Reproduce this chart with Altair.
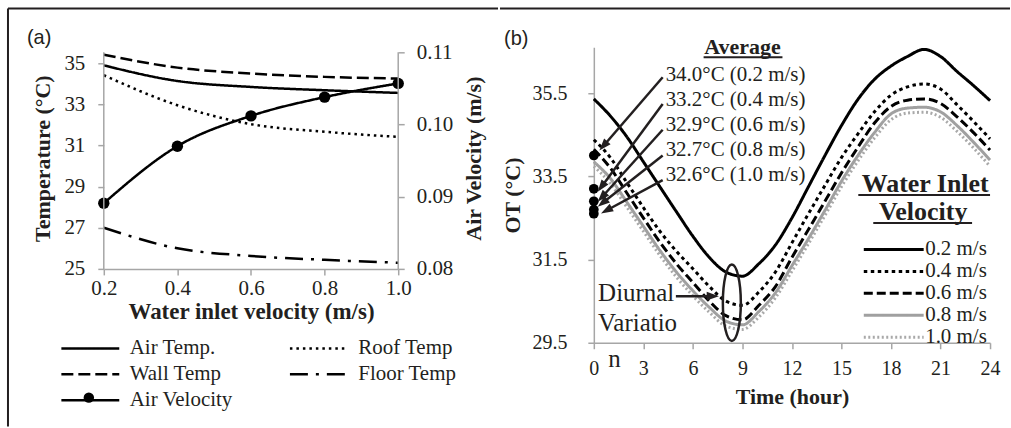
import math
import altair as alt
import pandas as pd

FONT = "Liberation Serif"
INK = "#231f20"
AXIS_GREY = "#a6a6a6"

# ---------------- Panel (a) data ----------------
inlet_velocity = [0.2, 0.4, 0.6, 0.8, 1.0]
air_temp = [34.90, 34.14, 33.85, 33.69, 33.56]
wall_temp = [35.42, 34.79, 34.50, 34.34, 34.26]
roof_temp = [34.42, 32.96, 32.04, 31.67, 31.42]
floor_temp = [27.00, 26.00, 25.63, 25.44, 25.30]
air_velocity = [0.0891, 0.0970, 0.1012, 0.1038, 0.1057]
# legend is filled column by column: col 1 = first three, col 2 = last two
series_a = ["Air Temp.", "Wall Temp", "Air Velocity", "Roof Temp", "Floor Temp"]
dash_a = [[1, 0], [12, 5], [1, 0], [2.5, 4], [18, 8, 3, 8]]
temp_ticks = [25, 27, 29, 31, 33, 35]
vel_ticks = [0.08, 0.09, 0.10, 0.11]

# ---------------- Panel (b) data ----------------
hours = list(range(25))
ot_02 = [35.36, 34.95, 34.45, 33.85, 33.25, 32.65, 32.06, 31.55, 31.20, 31.10, 31.40, 31.85, 32.50,
         33.25, 34.00, 34.72, 35.35, 35.83, 36.15, 36.38, 36.55, 36.38, 36.02, 35.68, 35.32]
ot_04 = [34.38, 33.95, 33.35, 32.75, 32.18, 31.70, 31.28, 30.85, 30.50, 30.40, 30.72, 31.20, 31.90,
         32.60, 33.28, 33.95, 34.52, 35.05, 35.45, 35.65, 35.72, 35.60, 35.22, 34.82, 34.40]
ot_06 = [34.15, 33.70, 33.10, 32.50, 31.92, 31.40, 30.95, 30.50, 30.15, 30.05, 30.40, 30.85, 31.55,
         32.22, 32.90, 33.58, 34.20, 34.78, 35.18, 35.33, 35.36, 35.25, 34.93, 34.55, 34.13]
ot_08 = [33.85, 33.45, 32.88, 32.30, 31.72, 31.20, 30.75, 30.35, 30.02, 29.93, 30.25, 30.70, 31.35,
         32.00, 32.68, 33.38, 34.00, 34.55, 35.00, 35.14, 35.16, 35.05, 34.72, 34.32, 33.89]
ot_10 = [33.74, 33.33, 32.76, 32.18, 31.60, 31.08, 30.63, 30.23, 29.90, 29.82, 30.12, 30.58, 31.22,
         31.88, 32.56, 33.25, 33.87, 34.42, 34.86, 35.02, 35.04, 34.92, 34.58, 34.18, 33.74]
series_b = ["0.2 m/s", "0.4 m/s", "0.6 m/s", "0.8 m/s", "1.0 m/s"]
colors_b = ["#000000", "#000000", "#000000", "#a0a0a0", "#a9a9a9"]
dash_b = [[1, 0], [3.5, 3.5], [9, 4], [1, 0], [2, 2.5]]
ot_ticks = [29.5, 31.5, 33.5, 35.5]
hour_ticks = list(range(0, 25, 3))

# averages and their annotations
avg_values = [34.0, 33.2, 32.9, 32.7, 32.6]
avg_labels = ["34.0°C (0.2 m/s)", "33.2°C (0.4 m/s)", "32.9°C (0.6 m/s)",
              "32.7°C (0.8 m/s)", "32.6°C (1.0 m/s)"]
label_hour = 4.35
label_ot = [35.78, 35.18, 34.58, 33.98, 33.38]
arrow_start_hour = [4.17, 4.17, 4.17, 4.17, 4.17]
arrow_start_ot = [35.88, 35.24, 34.62, 34.00, 33.41]
arrow_tip_hour = [0.34, 0.24, 0.24, 0.24, 0.44]
arrow_tip_ot = [34.12, 33.13, 32.89, 32.77, 32.61]

diurnal_text = ["Diurnal", "Variatio", "n"]
diurnal_hour = [0.26, 0.26, 0.87]
diurnal_ot = [30.50, 29.78, 28.91]
diurnal_arrow = (4.97, 30.62, 7.57, 30.62)
ellipse_center = (8.36, 30.46)

# ---------------- helpers ----------------
W_A, H_A = 295, 222
W_B, H_B = 397, 296
one = pd.DataFrame({"k": [0]})

def rule(x, y, x2=None, y2=None, width=2, color=INK):
    enc = {"x": alt.value(x), "y": alt.value(y)}
    if x2 is not None:
        enc["x2"] = alt.value(x2)
    if y2 is not None:
        enc["y2"] = alt.value(y2)
    return alt.Chart(one).mark_rule(color=color, strokeWidth=width).encode(**enc)

def ptext(txt, x, y, size, weight="normal", align="left", font=FONT):
    return alt.Chart(one).mark_text(text=txt, font=font, fontSize=size, fontWeight=weight,
                                    align=align, baseline="alphabetic", color=INK).encode(
        x=alt.value(x), y=alt.value(y))

# ---------------- Panel (a) ----------------
temp_rows = []
for name, vals in [("Air Temp.", air_temp), ("Wall Temp", wall_temp),
                   ("Roof Temp", roof_temp), ("Floor Temp", floor_temp)]:
    for v, t in zip(inlet_velocity, vals):
        temp_rows.append({"inlet": v, "series": name, "temp": t})
temp_df = pd.DataFrame(temp_rows)
vel_df = pd.DataFrame({"inlet": inlet_velocity, "velocity": air_velocity,
                       "series": ["Air Velocity"] * len(inlet_velocity)})

x_a = alt.X("inlet:Q", scale=alt.Scale(domain=[0.2, 1.0], nice=False, zero=False),
            axis=alt.Axis(values=inlet_velocity, format=".1f", title="Water inlet velocity (m/s)",
                          tickSize=6, labelPadding=3, titlePadding=2, titleFontSize=23,
                          labelFlush=False, labelOverlap=False))
legend_a = alt.Legend(
    orient="none", legendX=-44, legendY=290, title=None, columns=2, columnPadding=51,
    rowPadding=4, labelFontSize=21, labelOffset=47, symbolSize=400, symbolType="M-1,0L4.8,0",
    symbolStrokeWidth=2.5, symbolStrokeColor="black", padding=0)
dash_enc_a = alt.StrokeDash("series:N", scale=alt.Scale(domain=series_a, range=dash_a), legend=legend_a)

# plot area is 5 px taller than the drawn axis lines (top of axes at 35.5 / 0.11)
y_temp = alt.Y("temp:Q", scale=alt.Scale(domain=[25, 35.777], nice=False, zero=False),
               axis=alt.Axis(values=temp_ticks, title="Temperature (°C)", tickSize=6, domain=False,
                             labelPadding=13, titlePadding=9, titleFontSize=22))
y_vel = alt.Y("velocity:Q", scale=alt.Scale(domain=[0.08, 0.1107], nice=False, zero=False),
              axis=alt.Axis(values=vel_ticks, format=".2f", title="Air Velocity (m/s)", orient="right",
                            tickSize=6, labelPadding=12, titlePadding=11, titleFontSize=22,
                            titleAngle=270, titleBaseline="top", domain=False))

temp_lines = alt.Chart(temp_df).mark_line(interpolate="monotone", strokeWidth=2.5, color="black").encode(
    x=x_a, y=y_temp, strokeDash=dash_enc_a)
vel_line = alt.Chart(vel_df).mark_line(interpolate="monotone", strokeWidth=2.5, color="black").encode(
    x=x_a, y=y_vel, strokeDash=dash_enc_a)
vel_pts = alt.Chart(vel_df).mark_circle(size=130, color="black", opacity=1).encode(x=x_a, y=y_vel)
# marker on the "Air Velocity" legend sample
legend_dot = alt.Chart(one).mark_circle(size=110, color="black", opacity=1).encode(
    x=alt.value(-15), y=alt.value(351))

left = alt.layer(
    temp_lines,
    alt.layer(vel_line, vel_pts),
    legend_dot,
    rule(0, 5, y2=H_A, width=1.5, color=AXIS_GREY),
    rule(W_A, 5, y2=H_A, width=1.5, color=AXIS_GREY),
    rule(-96, -39, y2=380),
    rule(-96, -39, x2=395),
    ptext("(a)", -77, -3, 20, font="Liberation Sans"),
).resolve_scale(y="independent").properties(width=W_A, height=H_A)

# ---------------- Panel (b) ----------------
ot_rows = []
for name, vals in zip(series_b, [ot_02, ot_04, ot_06, ot_08, ot_10]):
    for h, v in zip(hours, vals):
        ot_rows.append({"hour": h, "series": name, "ot": v})
ot_df = pd.DataFrame(ot_rows)

x_scale_b = alt.Scale(domain=[0, 24], nice=False, zero=False)
y_scale_b = alt.Scale(domain=[29.5, 36.6], nice=False, zero=False)
x_axis_b = alt.Axis(values=hour_ticks, title="Time (hour)", tickSize=6, labelPadding=10,
                    titlePadding=8, labelFontSize=20, titleFontSize=22, labelFlush=False,
                    labelOverlap=False)
y_axis_b = alt.Axis(values=ot_ticks, format=".1f", title="OT (°C)", tickSize=6, labelPadding=21,
                    titlePadding=7, labelFontSize=20, titleFontSize=22)
x_b = alt.X("hour:Q", scale=x_scale_b, axis=x_axis_b)
y_b = alt.Y("ot:Q", scale=y_scale_b, axis=y_axis_b)

legend_b = alt.Legend(orient="none", legendX=269, legendY=191, title=None, labelFontSize=21,
                      labelOffset=40, rowPadding=0, symbolSize=400, symbolType="M-1,0L5,0",
                      symbolStrokeWidth=3, padding=0)

ot_lines = alt.Chart(ot_df).mark_line(interpolate="monotone", strokeWidth=3).encode(
    x=x_b, y=y_b,
    color=alt.Color("series:N", scale=alt.Scale(domain=series_b, range=colors_b), legend=legend_b),
    strokeDash=alt.StrokeDash("series:N", scale=alt.Scale(domain=series_b, range=dash_b), legend=legend_b),
)

avg_df = pd.DataFrame({"hour": [0] * len(avg_values), "ot": avg_values})
avg_dots = alt.Chart(avg_df).mark_circle(size=95, color="black", opacity=1).encode(x=x_b, y=y_b)

lab_df = pd.DataFrame({"hour": [label_hour] * len(avg_labels), "ot": label_ot, "txt": avg_labels})
avg_text = alt.Chart(lab_df).mark_text(font=FONT, fontSize=21, align="left", baseline="alphabetic",
                                       color=INK).encode(x=x_b, y=y_b, text="txt:N")

PX_H = W_B / 24.0
PX_V = H_B / (36.6 - 29.5)
HEAD_LEN = 6.0

def arrow_parts(h0, v0, h1, v1):
    dx = (h1 - h0) * PX_H
    dy = -(v1 - v0) * PX_V
    L = math.hypot(dx, dy)
    ang = math.degrees(math.atan2(dx, -dy)) % 360
    hc = h1 - HEAD_LEN * dx / L / PX_H
    vc = v1 + HEAD_LEN * dy / L / PX_V
    return hc, vc, ang

starts_h = arrow_start_hour + [diurnal_arrow[0]]
starts_v = arrow_start_ot + [diurnal_arrow[1]]
tips_h = arrow_tip_hour + [diurnal_arrow[2]]
tips_v = arrow_tip_ot + [diurnal_arrow[3]]
heads = [arrow_parts(a, b, c, d) for a, b, c, d in zip(starts_h, starts_v, tips_h, tips_v)]
arrow_df = pd.DataFrame({
    "hour": starts_h, "ot": starts_v,
    "hour2": [h[0] for h in heads], "ot2": [h[1] for h in heads],
})
head_df = pd.DataFrame({"hour": [h[0] for h in heads], "ot": [h[1] for h in heads],
                        "ang": [h[2] for h in heads]})
arrow_lines = alt.Chart(arrow_df).mark_rule(color=INK, strokeWidth=2.5).encode(
    x=x_b, y=y_b, x2="hour2:Q", y2="ot2:Q")
arrow_heads = alt.Chart(head_df).mark_point(
    shape="M0,-1L0.7,1L-0.7,1Z", size=150, filled=True, color=INK, opacity=1).encode(
    x=x_b, y=y_b, angle=alt.Angle("ang:Q", scale=None))

di_df = pd.DataFrame({"hour": diurnal_hour, "ot": diurnal_ot, "txt": diurnal_text})
di_text = alt.Chart(di_df).mark_text(font=FONT, fontSize=25, align="left", baseline="alphabetic",
                                     color=INK).encode(x=x_b, y=y_b, text="txt:N")
ell_df = pd.DataFrame({"hour": [ellipse_center[0]], "ot": [ellipse_center[1]]})
ellipse = alt.Chart(ell_df).mark_point(
    shape="M0,-1A0.235,1,0,1,1,0,1A0.235,1,0,1,1,0,-1Z", size=5868, filled=False,
    strokeWidth=2.5, color=INK, opacity=1).encode(x=x_b, y=y_b)

right = alt.layer(
    ot_lines, avg_dots, arrow_lines, arrow_heads, avg_text, di_text, ellipse,
    ptext("Average", 149, 7, 22, weight="bold", align="center"),
    rule(110, 10, x2=189),
    ptext("Water Inlet", 332, 145, 26, weight="bold", align="center"),
    rule(265, 148, x2=397),
    ptext("Velocity", 330, 173, 26, weight="bold", align="center"),
    rule(280, 176, x2=379),
    rule(-94, -39, x2=417),
    ptext("(b)", -90, -2, 20, font="Liberation Sans"),
).properties(width=W_B, height=H_B)

chart = alt.hconcat(left, right, spacing=0).resolve_scale(
    strokeDash="independent", color="independent"
).resolve_legend(
    strokeDash="independent", color="independent"
).properties(
    padding={"left": 7, "top": 7, "right": 0, "bottom": 0}, background="white"
).configure_axis(
    labelFont=FONT, titleFont=FONT, labelColor=INK, titleColor=INK, domainColor=AXIS_GREY,
    tickColor=AXIS_GREY, domainWidth=1.5, tickWidth=1.5, grid=False, titleFontWeight="bold",
    labelFontSize=21
).configure_legend(labelFont=FONT, labelColor=INK).configure_view(stroke=None)

chart.save("out.html", embed_options={"renderer": "svg", "actions": False})
